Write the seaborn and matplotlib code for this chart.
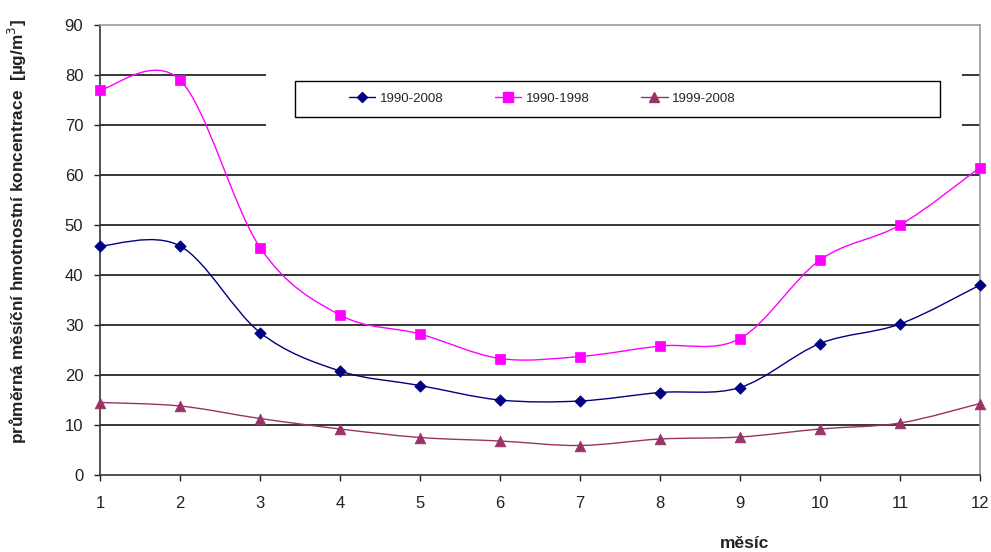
import numpy as np
import pandas as pd
import seaborn as sns
import matplotlib
matplotlib.use("Agg")
import matplotlib.pyplot as plt
from matplotlib.path import Path
from matplotlib.patches import PathPatch, Rectangle
from matplotlib.lines import Line2D

# Monthly mean mass concentration [µg/m³]
months = list(range(1, 13))
series_names = ["1990-2008", "1990-1998", "1999-2008"]
conc_1990_2008 = [45.8, 45.8, 28.5, 20.8, 17.9, 15.0, 14.8, 16.5, 17.5, 26.3, 30.2, 38.0]
conc_1990_1998 = [77.0, 79.0, 45.5, 32.0, 28.2, 23.3, 23.7, 25.8, 27.3, 43.0, 50.0, 61.5]
conc_1999_2008 = [14.5, 13.8, 11.3, 9.2, 7.5, 6.8, 5.9, 7.2, 7.6, 9.2, 10.4, 14.3]
y_ticks = list(range(0, 91, 10))

colors = ["#000080", "#FF00FF", "#993366"]
markers = ["D", "s", "^"]
marker_sizes = [34, 60, 60]

df = pd.DataFrame({
    "month": months * 3,
    "value": conc_1990_2008 + conc_1990_1998 + conc_1999_2008,
    "period": [n for n in series_names for _ in months],
})

sns.set_theme(style="white")
plt.rcParams["font.family"] = ["Liberation Sans", "DejaVu Sans"]

fig = plt.figure(figsize=(9.91, 5.52), dpi=100)
W, H = 991, 552
ax = fig.add_axes([100 / W, (H - 475) / H, 880 / W, 450 / H])


def smooth_path(xs, ys):
    """Cardinal (Catmull-Rom) Bezier path through the given points."""
    pts = np.column_stack([xs, ys]).astype(float)
    ext = np.vstack([pts[0], pts, pts[-1]])
    verts = [pts[0]]
    codes = [Path.MOVETO]
    for i in range(len(pts) - 1):
        p0, p1, p2, p3 = ext[i], ext[i + 1], ext[i + 2], ext[i + 3]
        c1 = p1 + (p2 - p0) / 6.0
        c2 = p2 - (p3 - p1) / 6.0
        verts += [c1, c2, p2]
        codes += [Path.CURVE4] * 3
    return Path(verts, codes)


# horizontal gridlines
for v in y_ticks[1:-1]:
    ax.axhline(v, color="black", lw=1.1, zorder=1)

# white area behind the legend
ax.add_patch(Rectangle((166 / 880, 67.5 / 90), (962 - 266) / 880, 15 / 90,
                       transform=ax.transAxes, facecolor="white",
                       edgecolor="none", zorder=2))

for name, c, m, s in zip(series_names, colors, markers, marker_sizes):
    sub = df[df["period"] == name]
    ax.add_patch(PathPatch(smooth_path(sub["month"], sub["value"]),
                           facecolor="none", edgecolor=c, lw=1.0, zorder=3))
    sns.scatterplot(data=sub, x="month", y="value", marker=m, s=s,
                    color=c, edgecolor=c, linewidth=0.5, ax=ax,
                    zorder=4, clip_on=False, legend=False)

ax.set_xlim(1, 12)
ax.set_ylim(0, 90)
ax.set_xticks(months)
ax.set_yticks(y_ticks)
ax.tick_params(axis="both", labelsize=12, colors="#222222", length=4,
               width=1.0, direction="out", left=True, bottom=True)
ax.tick_params(axis="y", pad=8)
ax.tick_params(axis="x", pad=11)
ax.set_xlabel("")
ax.set_ylabel("")

for side in ["left", "bottom"]:
    ax.spines[side].set_color("#333333")
    ax.spines[side].set_linewidth(1.2)
for side in ["top", "right"]:
    ax.spines[side].set_color("#999999")
    ax.spines[side].set_linewidth(1.2)

# legend frame and entries
ax.add_patch(Rectangle((195 / 880, (475 - 117) / 450), 645 / 880, 36 / 450,
                       transform=ax.transAxes, facecolor="white",
                       edgecolor="black", lw=1.0, zorder=5))
handles = [Line2D([], [], color=c, lw=1.0, marker=m,
                  markersize=ms, markeredgecolor=c)
           for c, m, ms in zip(colors, markers, [5, 7, 7])]
leg = ax.legend(handles, series_names, ncol=3, frameon=False, fontsize=9.5,
                loc="center left",
                bbox_to_anchor=(237 / 880, (475 - 99) / 450),
                handlelength=2.0, handletextpad=0.35, columnspacing=3.9)
leg.set_zorder(6)

fig.text(17 / W, 1 - 232 / H, "průměrná měsíční hmotnostní koncentrace  [µg/m$^3$]",
         rotation=90, ha="center", va="center", fontsize=12.4,
         fontweight="bold", color="#222222")
fig.text(745 / W, 1 - 543 / H, "měsíc", ha="center", va="center",
         fontsize=12.5, fontweight="bold", color="#222222")

fig.savefig("out.png", dpi=100, facecolor="white")
